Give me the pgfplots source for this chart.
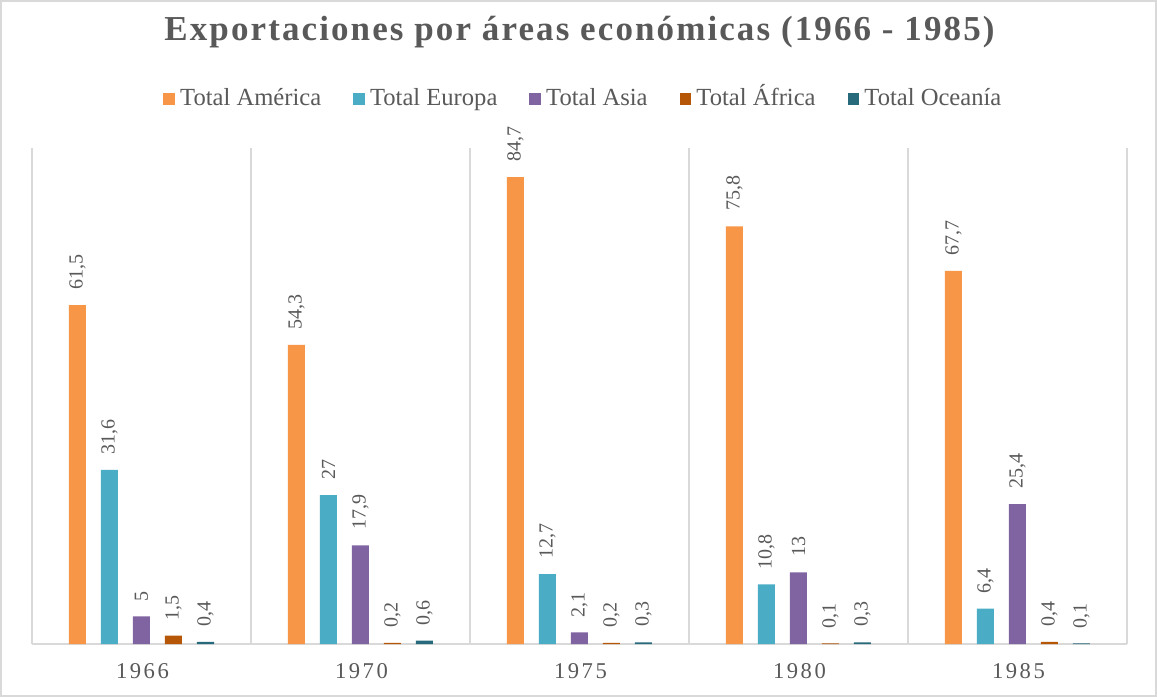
\documentclass[border=0pt]{standalone}
\usepackage{fontspec}
\setmainfont{Liberation Serif}
\usepackage{pgfplots}
\pgfplotsset{compat=1.18}
\definecolor{cAm}{HTML}{F79646}
\definecolor{cEu}{HTML}{4BACC6}
\definecolor{cAs}{HTML}{8064A2}
\definecolor{cAf}{HTML}{B65708}
\definecolor{cOc}{HTML}{276A7C}
\definecolor{txt}{HTML}{595959}
\definecolor{grd}{HTML}{D9D9D9}
\begin{document}
\begin{tikzpicture}
\path[use as bounding box] (-16pt,-26.5pt) rectangle (562.5pt,322pt);
\draw[grd, line width=0.75pt] (-15.6pt,-26.1pt) rectangle (562.1pt,321.6pt);
\begin{axis}[
  at={(0,0)}, anchor=south west,
  scale only axis, width=547.5pt, height=248pt,
  ybar=7.5pt, bar width=8.5pt,
  xmin=-0.5, xmax=4.5, ymin=0, ymax=90,
  axis x line=bottom, axis y line=none,
  x axis line style={-, draw=grd, line width=0.75pt},
  xtick={0,1,2,3,4},
  xticklabels={1966,1970,1975,1980,1985},
  xtick style={draw=none},
  xticklabel style={font=\fontsize{11.3}{13}\selectfont\addfontfeature{LetterSpace=11}, text=txt, yshift=-4pt, xshift=0.5pt},
  minor xtick={-0.5,0.5,1.5,2.5,3.5,4.5},
  xminorgrids, minor grid style={draw=grd, line width=0.6pt},
  minor tick length=0pt,
  clip=false,
  /pgf/number format/.cd, use comma, assume math mode=true, /pgfplots/.cd,
  nodes near coords,
  every node near coord/.append style={rotate=90, anchor=west, inner xsep=7.5pt, inner ysep=0pt,
     font=\fontsize{10}{12}\selectfont, text=txt},
  title={Exportaciones por áreas económicas (1966 - 1985)},
  title style={font=\bfseries\fontsize{17.5}{20}\selectfont\addfontfeature{LetterSpace=6}, text=txt,
     at={(0.5,1.2097)}, anchor=center},
  legend columns=-1,
  legend style={draw=none, at={(0.505,1.0988)}, anchor=center,
     font=\fontsize{12.3}{14}\selectfont, text=txt,
     nodes={text height=8.6pt, text depth=2.6pt, inner xsep=2.6pt},
     /tikz/every even column/.append style={column sep=13.4pt}},
  legend image code/.code={\fill[#1] (0pt,-2.9pt) rectangle (5.8pt,2.9pt);},
]
\addplot[fill=cAm, draw=none] coordinates {(0,61.5) (1,54.3) (2,84.7) (3,75.8) (4,67.7)};
\addplot[fill=cEu, draw=none] coordinates {(0,31.6) (1,27) (2,12.7) (3,10.8) (4,6.4)};
\addplot[fill=cAs, draw=none] coordinates {(0,5) (1,17.9) (2,2.1) (3,13) (4,25.4)};
\addplot[fill=cAf, draw=none] coordinates {(0,1.5) (1,0.2) (2,0.2) (3,0.1) (4,0.4)};
\addplot[fill=cOc, draw=none] coordinates {(0,0.4) (1,0.6) (2,0.3) (3,0.3) (4,0.1)};
\legend{Total América, Total Europa, Total Asia, Total África, Total Oceanía}
\end{axis}
\end{tikzpicture}
\end{document}
